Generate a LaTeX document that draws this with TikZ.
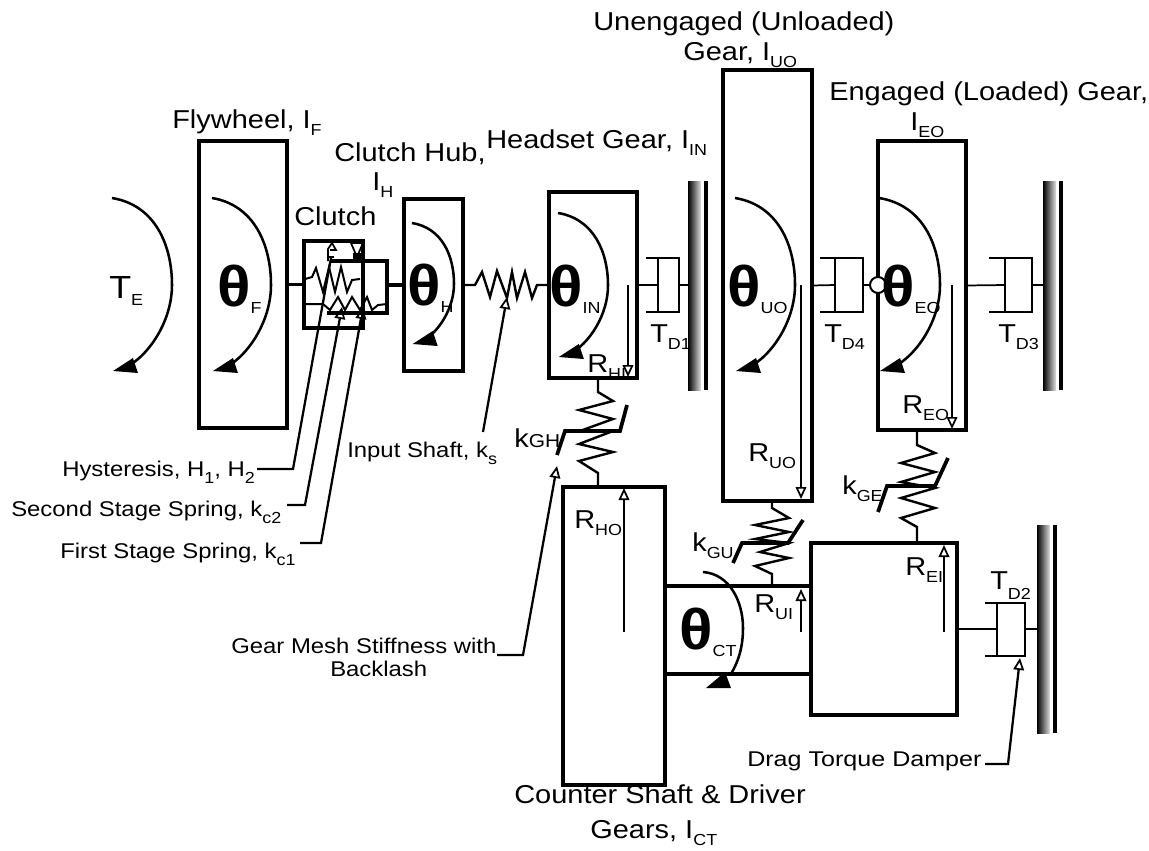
\documentclass[tikz,border=0pt]{standalone}
\usepackage{fontspec}
\setmainfont[FakeStretch=1.12]{Liberation Sans}
\newfontfamily\thetafont[FakeStretch=1.08]{Liberation Sans Bold}
\usetikzlibrary{arrows.meta}
\newcommand\lsb[1]{\raisebox{-5.5pt}{\fontsize{12}{12}\selectfont #1}}
\newcommand\thta[1]{{\thetafont\fontsize{43}{43}\selectfont θ}\raisebox{-5.5pt}{\fontsize{12}{12}\selectfont #1}}
\tikzset{
  thick line/.style={line width=2.4pt},
  thin line/.style={line width=1.3pt},
  gearbox/.style={draw=black,line width=2.4pt,inner sep=0pt,outer sep=0pt,fill=none},
  big/.style={inner sep=0pt,anchor=base west,font=\fontsize{19.4}{22}\selectfont},
  small/.style={inner sep=0pt,anchor=base west,font=\fontsize{16}{18}\selectfont},
  thetalabel/.style={inner sep=0pt,anchor=base west},
  spring/.style={line width=1.8pt,line join=miter},
  lash/.style={line width=2.8pt},
  leader/.style={line width=1.7pt},
  openhead/.style={-{Triangle[open,length=9pt,width=8pt,line width=1.3pt]}},
}
\newcommand\gbox[5]{\node[gearbox,minimum width={0.75pt*(#4-#2)},minimum height={0.75pt*(#5-#3)}] (#1) at ({(#2+#4)/2},{(#3+#5)/2}) {};}
\newcommand\torque[4]{%
  \begin{scope}[shift={(#1,#2)},xscale=#3/60,yscale=#4/173]
    \draw[line width=1.9pt] (0,0) .. controls (43,7) and (60,47) .. (60,87) .. controls (60,122) and (38,157) .. (13,170);
  \end{scope}
  \fill ({#1+#3/60},{#2+#4}) -- ++(20,-13) -- ++(5,15) -- cycle;}
\newcommand\damper[6]{% left,right,piston,top,bottom,midy
  \draw[thin line] (#1,#4) -- (#2,#4) -- (#2,#5) -- (#1,#5);
  \draw[thin line] (#3,#4) -- (#3,#5);}
\newcommand\wall[3]{%
  \shade[left color=black,right color=black!12] (#1,#2) rectangle ({#1+13},#3);
  \fill ({#1+16},#2) rectangle ({#1+20},#3);}
\begin{document}
\begin{tikzpicture}[x=0.75pt,y=-0.75pt]
\useasboundingbox (0,0) rectangle (1149,850);
% boxes
\gbox{fly}{199}{141}{287}{428}
\gbox{hub}{404}{199}{463}{371}
\gbox{in}{549}{192}{637}{378}
\gbox{uo}{723}{70}{812}{501}
\gbox{eo}{878}{141}{966}{430}
\gbox{ct}{563}{487}{665}{785}
\gbox{ei}{811}{543}{957}{715}
\gbox{cout}{304}{241}{363}{328}
% clutch inner box (open on the left)
\coordinate (ci1) at (330,261);\coordinate (ci2) at (387,261);\coordinate (ci3) at (387,313);\coordinate (ci4) at (327,313);
\draw[thick line] (ci1) -- (ci2) -- (ci3) -- (ci4);
% shaft connectors
\draw[thick line] (fly.east) -- (cout.west);
\coordinate (cie) at (387,285);
\draw[thick line] (cie) -- (hub.west);
% clutch internals
\draw[spring,line width=1.5pt] (305,279) -- (312,277) -- (316,268) -- (323,292) -- (329,267) -- (335,292) -- (341,267) -- (347,292) -- (352,280) -- (360,279);
\draw[spring,line width=1.5pt] (305,304) -- (323,304) -- (330,310) -- (338,297) -- (345,310) -- (352,297) -- (360,310) -- (367,297) -- (372,310) -- (378,305) -- (387,304);
\draw[thin line] (351,243) -- (363,243) -- (357,257) -- cycle;
\fill (353,253) rectangle (361,261);
\draw[thin line] (328,261) -- (328,249) -- (332,243) -- (336,250) -- (330,250);
\draw[thin line] (328,257) -- (334,257);
% torque arcs
\torque{112}{198}{60}{173}
\torque{212}{198}{59}{173}
\torque{412}{223}{42}{121}
\torque{558}{213}{50}{144}
\torque{735}{198}{60}{173}
\torque{879}{198}{61}{173}
\draw[line width=1.9pt] (703,572) .. controls (730,574) and (743,602) .. (743,628) .. controls (743,648) and (738,662) .. (731,674);
\fill (706,688) -- (725,672) -- (731,688) -- cycle;
% input shaft spring
\coordinate (is1) at (537,285);
\draw[spring] (hub.east) -- (475,285) -- (482,272) -- (490,297) -- (497,271) -- (507,298) -- (512,272) -- (517,298) -- (525,272) -- (532,298) -- (is1) -- (in.west);
% dampers
\damper{646}{679}{658}{258}{312}{285}
\damper{820}{863}{835}{258}{312}{285}
\damper{989}{1032}{1005}{258}{312}{285}
\damper{985}{1025}{997}{603}{656}{629}
\coordinate (d1p) at (658,285);\coordinate (d1r) at (679,285);\coordinate (w1) at (688,285);
\coordinate (d4p) at (835,285);\coordinate (d4r) at (863,285);
\coordinate (d3p) at (1005,285);\coordinate (d3r) at (1032,285);\coordinate (w3) at (1043,285);
\coordinate (d2p) at (997,629);\coordinate (d2r) at (1025,629);\coordinate (w2) at (1037,629);
\draw[thin line] (in.east) -- (d1p) (d1r) -- (w1);
\draw[thin line] (uo.east) -- (d4p);
\draw[thin line] (eo.east) -- (d3p) (d3r) -- (w3);
\draw[thin line] (ei.east |- d2p) -- (d2p) (d2r) -- (w2);
\node[draw=black,fill=white,line width=1.5pt,circle,minimum size=16pt*0.75,inner sep=0pt,outer sep=0pt] (pivot) at (878,285) {};
\draw[thin line] (d4r) -- (pivot);
% walls
\wall{688}{181}{390}
\wall{1043}{181}{390}
\wall{1037}{525}{733}
% counter shaft rails
\coordinate (r1) at (665,586);\coordinate (r1e) at (811,586);\coordinate (r2) at (665,674);\coordinate (r2e) at (811,674);
\draw[thick line] (r1) -- (r1e) (r2) -- (r2e);
% gear springs
\coordinate (gh1) at (598,378);\coordinate (gh2) at (598,487);
\draw[spring] (gh1) -- (598,392) -- (613,401) -- (579,410) -- (613,419) -- (580,431) -- (613,431) -- (579,444) -- (613,452) -- (579,461) -- (598,473) -- (gh2);
\draw[lash] (557,455) -- (565,431) -- (620,431) -- (627,405);
\coordinate (gu1) at (772,501);\coordinate (gu2) at (772,586);
\draw[spring] (gu1) -- (772,508) -- (789,518) -- (755,525) -- (789,532) -- (755,539) -- (789,543) -- (760,552) -- (789,558) -- (755,566) -- (772,574) -- (gu2);
\draw[lash] (733,563) -- (742,543) -- (788,543) -- (803,520);
\coordinate (ge1) at (917,430);\coordinate (ge2) at (917,543);
\draw[spring] (ge1) -- (917,445) -- (935,453) -- (901,463) -- (935,472) -- (901,482) -- (935,488) -- (901,498) -- (935,508) -- (901,518) -- (917,527) -- (ge2);
\draw[lash] (878,512) -- (887,486) -- (935,486) -- (948,458);
% force arrows
\coordinate (a1s) at (628,285);\coordinate (a1e) at (628,377);
\coordinate (a2s) at (801,285);\coordinate (a2e) at (801,499);
\coordinate (a3s) at (952,285);\coordinate (a3e) at (952,429);
\coordinate (a4s) at (624,632);\coordinate (a4e) at (624,488);
\coordinate (a5s) at (801,632);\coordinate (a5e) at (801,589);
\coordinate (a6s) at (944,632);\coordinate (a6e) at (944,545);
\foreach \s/\e in {a1s/a1e,a2s/a2e,a3s/a3e,a4s/a4e,a5s/a5e,a6s/a6e}
  \draw[thin line,openhead] (\s) -- (\e);
% leaders
\node[small] (lhys) at (62,476) {Hysteresis, H\lsb{1}, H\lsb{2}};
\node[small] (lsec) at (11,516) {Second Stage Spring, k\lsb{c2}};
\node[small] (lfst) at (60,558) {First Stage Spring, k\lsb{c1}};
\node[small] (lins) at (347,457) {Input Shaft, k\lsb{s}};
\node[small] (lmsh) at (231,653) {Gear Mesh Stiffness with};
\node[small] (lbkl) at (330,676) {Backlash};
\node[small] (ldrg) at (747,766) {\scalebox{1.05}[1]{Drag Torque Damper}};
\coordinate (h1) at (257,469);\coordinate (h2) at (293,469);\coordinate (h3) at (331,258);
\coordinate (s1) at (287,505);\coordinate (s2) at (305,505);\coordinate (s3) at (342,307);
\coordinate (f1) at (300,543);\coordinate (f2) at (321,543);\coordinate (f3) at (363,307);
\coordinate (i1) at (483,432);\coordinate (i3) at (507,297);
\coordinate (m1) at (497,655);\coordinate (m2) at (523,655);\coordinate (m3) at (557,466);
\coordinate (d1) at (985,764);\coordinate (d2) at (1008,764);\coordinate (d3) at (1020,658);
\draw[leader] (h1) -- (h2) -- (h3);
\draw[leader,openhead] (s1) -- (s2) -- (s3);
\draw[leader,openhead] (f1) -- (f2) -- (f3);
\draw[leader,openhead] (i1) -- (i3);
\draw[leader,openhead] (m1) -- (m2) -- (m3);
\draw[leader,openhead] (d1) -- (d2) -- (d3);
% big labels
\node[big] (t1) at (172,128) {Flywheel, I\lsb{F}};
\node[big] (t2) at (334,161) {Clutch Hub,};
\node[big] (t3) at (372,190) {I\lsb{H}};
\node[big] (t4) at (486,148) {Headset Gear, I\lsb{IN}};
\node[big] (t5) at (294,225) {Clutch};
\node[big] (t6) at (593,30) {Unengaged (Unloaded)};
\node[big] (t7) at (683,60) {Gear, I\lsb{UO}};
\node[big] (t8) at (829,100) {Engaged (Loaded) Gear,};
\node[big] (t9) at (910,130) {I\lsb{EO}};
\node[big] (t10) at (514,803) {Counter Shaft \& Driver};
\node[big] (t11) at (590,838) {Gears, I\lsb{CT}};
\node[big,font=\fontsize{24}{24}\selectfont] (te) at (109,298) {T\lsb{E}};
\node[big] (td1) at (650,342) {T\lsb{D1}};
\node[big] (td4) at (824,342) {T\lsb{D4}};
\node[big] (td3) at (998,342) {T\lsb{D3}};
\node[big] (td2) at (990,589) {T\raisebox{-8pt}{\fontsize{12}{12}\selectfont D2}};
\node[big] (rhi) at (587,372) {R\lsb{HI}};
\node[big] (ruo) at (748,461) {R\lsb{UO}};
\node[big] (reo) at (902,413) {R\lsb{EO}};
\node[big] (rho) at (574,528) {R\lsb{HO}};
\node[big] (rui) at (754,612) {R\lsb{UI}};
\node[big] (rei) at (905,575) {R\lsb{EI}};
\node[big] (kgh) at (514,447) {k{\fontsize{14}{14}\selectfont GH}};
\node[big] (kgu) at (692,551) {k\lsb{GU}};
\node[big] (kge) at (842,494) {k\lsb{GE}};
% shaft angles
\node[thetalabel] (thf) at (217,306) {\thta{F}};
\node[thetalabel] (thh) at (407,305) {\thta{H}};
\node[thetalabel] (thi) at (549,306) {\thta{IN}};
\node[thetalabel] (thu) at (727,306) {\thta{UO}};
\node[thetalabel] (the) at (881,306) {\thta{EO}};
\node[thetalabel] (thc) at (679,649) {\thta{CT}};
\end{tikzpicture}
\end{document}
